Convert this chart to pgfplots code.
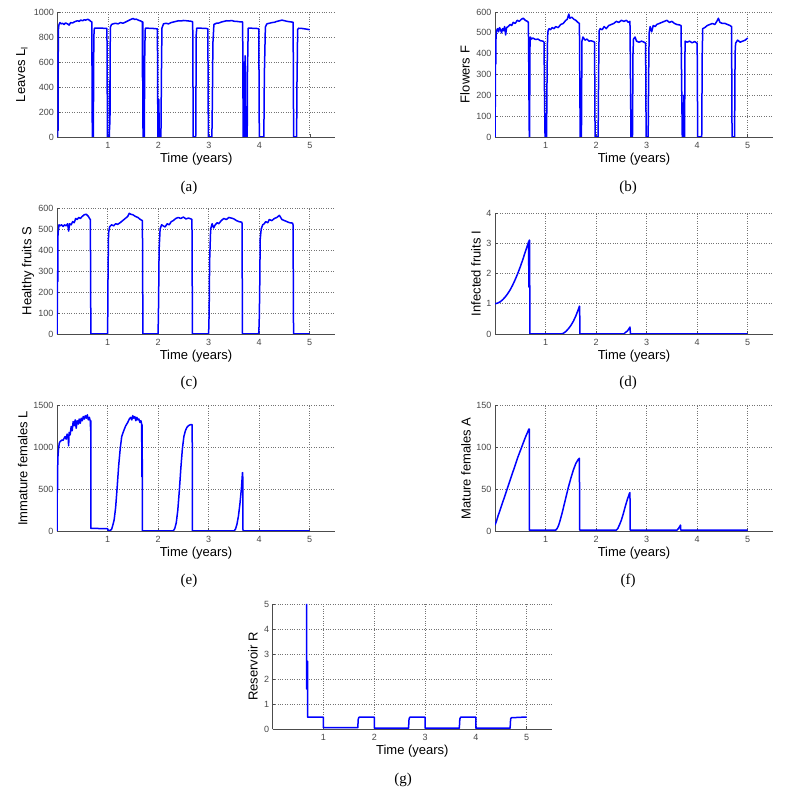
\documentclass[border=0pt]{standalone}
\usepackage{fontspec}
\setmainfont{Liberation Sans}
\newfontfamily\serifcap{Liberation Serif}
\usepackage{pgfplots}
\pgfplotsset{compat=1.18}

\pgfplotsset{panel/.style={
  scale only axis, anchor=south west,
  xmin=0, xmax=5.5, ymin=0,
  xtick={1,2,3,4,5},
  axis x line*=bottom, axis y line*=left,
  axis line style={-, black!70, line width=0.6pt},
  grid=major, grid style={dotted, black!55, line width=0.6pt},
  tick align=inside, major tick length=2.5pt, tick style={black!70, line width=0.5pt},
  ticklabel style={font=\fontsize{9}{10}\selectfont, text=black!72},
  xticklabel style={yshift=-1.5pt},
  /pgf/number format/assume math mode=true,
  /pgf/number format/1000 sep={},
  xlabel={Time (years)},
  label style={font=\fontsize{13}{15}\selectfont},
  xlabel style={at={(axis description cs:0.5,0)}, anchor=center, yshift=-22pt},
  no markers,
  every axis plot/.append style={blue, line width=1.5pt, line join=round},
}}

\begin{document}
\begin{tikzpicture}
\useasboundingbox (0,0) rectangle (798pt,794pt);

% (a) Leaves
\begin{axis}[panel, at={(57.5pt,657pt)}, width=277.5pt, height=125pt,
  ymax=1000, ytick={0,200,...,1000}, ylabel={Leaves L$_{\mathrm{l}}$},
  ylabel style={at={(axis description cs:-0.128,0.5)}, anchor=center}]
\addplot coordinates {(0,0) (0.005,250) (0.01,50) (0.015,700) (0.02,870) (0.03,900) (0.05,915) (0.07,905) (0.1,910) (0.13,900) (0.16,912) (0.2,905) (0.23,895) (0.26,915) (0.3,912) (0.33,920) (0.36,925) (0.4,930) (0.43,925) (0.46,935) (0.5,930) (0.53,938) (0.56,935) (0.6,942) (0.63,935) (0.66,925) (0.68,920) (0.69,0) (0.71,0) (0.72,800) (0.73,870) (0.8,870) (0.9,870) (0.98,868) (0.99,0) (1.03,0) (1.035,450) (1.04,100) (1.045,750) (1.05,880) (1.07,900) (1.1,905) (1.15,910) (1.2,905) (1.25,915) (1.3,910) (1.35,920) (1.4,930) (1.45,940) (1.5,948) (1.53,940) (1.56,943) (1.6,935) (1.65,928) (1.68,920) (1.685,450) (1.69,920) (1.695,0) (1.72,0) (1.73,700) (1.74,870) (1.8,870) (1.9,868) (1.98,865) (1.99,0) (2.0,0) (2.01,300) (2.015,0) (2.05,0) (2.06,500) (2.07,870) (2.1,905) (2.15,910) (2.2,905) (2.25,915) (2.3,920) (2.35,925) (2.4,930) (2.45,928) (2.5,932) (2.55,930) (2.6,928) (2.66,925) (2.68,920) (2.69,0) (2.74,0) (2.745,400) (2.75,820) (2.76,870) (2.85,870) (2.95,868) (2.98,865) (2.99,0) (3.06,0) (3.07,300) (3.08,750) (3.1,900) (3.15,910) (3.2,912) (3.25,920) (3.3,925) (3.35,930) (3.4,928) (3.45,932) (3.5,926) (3.55,925) (3.6,922) (3.67,920) (3.68,0) (3.7,0) (3.705,600) (3.71,50) (3.72,650) (3.73,0) (3.76,0) (3.765,500) (3.78,870) (3.85,870) (3.95,868) (3.99,865) (4.0,0) (4.09,0) (4.1,500) (4.12,880) (4.15,905) (4.2,910) (4.25,915) (4.3,918) (4.35,925) (4.4,930) (4.45,935) (4.5,930) (4.55,925) (4.6,922) (4.67,918) (4.68,0) (4.74,0) (4.745,380) (4.76,860) (4.78,870) (4.85,868) (4.9,865) (4.95,862) (5.0,858)};
\end{axis}

% (b) Flowers
\begin{axis}[panel, at={(495pt,657pt)}, width=278pt, height=125pt,
  ymax=600, ytick={0,100,...,600}, ylabel={Flowers F},
  ylabel style={at={(axis description cs:-0.108,0.5)}, anchor=center}]
\addplot coordinates {(0,0) (0.005,150) (0.01,400) (0.015,350) (0.02,480) (0.03,510) (0.05,520) (0.07,505) (0.09,525) (0.11,515) (0.13,500) (0.15,520) (0.17,510) (0.19,530) (0.21,490) (0.23,525) (0.26,530) (0.3,540) (0.33,535) (0.36,550) (0.4,545) (0.44,560) (0.48,555) (0.52,565) (0.56,570) (0.6,560) (0.64,555) (0.66,550) (0.67,300) (0.675,60) (0.68,0) (0.685,0) (0.69,420) (0.7,480) (0.72,470) (0.75,475) (0.8,468) (0.85,470) (0.9,462) (0.95,460) (0.97,455) (0.98,200) (0.99,0) (1.02,0) (1.025,150) (1.03,300) (1.04,480) (1.05,510) (1.07,520) (1.1,515) (1.13,525) (1.17,520) (1.2,530) (1.25,525) (1.3,540) (1.35,545) (1.4,560) (1.43,565) (1.46,590) (1.48,570) (1.52,575) (1.56,565) (1.6,560) (1.64,550) (1.67,545) (1.68,200) (1.685,0) (1.71,0) (1.72,460) (1.74,480) (1.78,465) (1.82,470) (1.86,460) (1.9,462) (1.95,458) (1.97,455) (1.98,0) (2.04,0) (2.05,300) (2.06,510) (2.08,520) (2.12,515) (2.16,530) (2.2,520) (2.25,535) (2.3,540) (2.35,545) (2.4,555) (2.45,550) (2.5,560) (2.55,555) (2.6,560) (2.64,550) (2.67,555) (2.68,300) (2.69,0) (2.72,0) (2.73,400) (2.74,470) (2.77,480) (2.8,460) (2.85,455) (2.9,460) (2.95,455) (2.98,450) (2.99,0) (3.03,0) (3.04,300) (3.05,500) (3.07,530) (3.1,505) (3.13,535) (3.17,530) (3.2,540) (3.25,545) (3.3,550) (3.35,555) (3.4,560) (3.45,550) (3.5,555) (3.55,545) (3.6,540) (3.65,538) (3.68,535) (3.7,100) (3.705,0) (3.73,0) (3.735,200) (3.74,20) (3.75,0) (3.76,460) (3.8,455) (3.85,460) (3.9,452) (3.95,458) (4.0,450) (4.01,0) (4.09,0) (4.1,400) (4.11,520) (4.15,525) (4.2,535) (4.25,540) (4.3,545) (4.35,540) (4.4,560) (4.42,570) (4.45,550) (4.5,545) (4.55,545) (4.6,540) (4.65,535) (4.68,530) (4.69,0) (4.74,0) (4.75,400) (4.76,450) (4.8,465) (4.85,455) (4.9,460) (4.95,465) (5.0,475)};
\end{axis}

% (c) Healthy fruits
\begin{axis}[panel, at={(57pt,460pt)}, width=278pt, height=126pt,
  ymax=600, ytick={0,100,...,600}, ylabel={Healthy fruits S},
  ylabel style={at={(axis description cs:-0.104,0.5)}, anchor=center}]
\addplot coordinates {(0,0) (0.005,100) (0.01,300) (0.015,250) (0.02,480) (0.03,500) (0.04,520) (0.06,515) (0.09,520) (0.12,512) (0.15,520) (0.18,515) (0.21,525) (0.23,490) (0.25,525) (0.28,520) (0.31,535) (0.34,530) (0.37,550) (0.4,545) (0.43,555) (0.46,550) (0.5,560) (0.54,568) (0.58,570) (0.62,560) (0.65,548) (0.66,545) (0.67,0) (0.9,0) (1.0,0) (1.005,100) (1.01,300) (1.02,480) (1.04,510) (1.08,520) (1.12,515) (1.16,525) (1.2,522) (1.25,530) (1.3,540) (1.35,550) (1.4,560) (1.43,575) (1.46,570) (1.5,568) (1.55,560) (1.6,555) (1.65,545) (1.69,540) (1.70,0) (2.0,0) (2.01,150) (2.02,400) (2.04,500) (2.07,520) (2.1,515) (2.14,510) (2.18,525) (2.22,520) (2.26,535) (2.3,540) (2.35,550) (2.4,555) (2.45,550) (2.5,557) (2.55,548) (2.6,552) (2.65,548) (2.67,545) (2.68,0) (3.0,0) (3.01,100) (3.02,350) (3.04,500) (3.07,525) (3.1,505) (3.13,520) (3.17,530) (3.2,525) (3.25,540) (3.3,550) (3.35,545) (3.4,555) (3.45,552) (3.5,548) (3.55,540) (3.6,535) (3.66,532) (3.67,0) (3.99,0) (4.0,50) (4.01,200) (4.02,450) (4.04,500) (4.07,520) (4.1,525) (4.13,535) (4.17,530) (4.2,545) (4.25,540) (4.3,550) (4.35,555) (4.4,565) (4.45,545) (4.5,540) (4.55,535) (4.6,530) (4.66,528) (4.67,520) (4.68,0) (5.0,0)};
\end{axis}

% (d) Infected fruits (x 10^-3)
\begin{axis}[panel, at={(495pt,460pt)}, width=278pt, height=121pt,
  ymax=4, ytick={0,1,...,4}, ylabel={Infected fruits I},
  ylabel style={at={(axis description cs:-0.068,0.5)}, anchor=center}]
\addplot coordinates {(0,1.0) (0.05,1.02) (0.1,1.06) (0.15,1.13) (0.2,1.22) (0.25,1.33) (0.3,1.46) (0.35,1.62) (0.4,1.8) (0.45,2.0) (0.5,2.22) (0.55,2.46) (0.6,2.72) (0.65,2.97) (0.665,3.05) (0.67,1.55) (0.675,3.1) (0.685,3.1) (0.69,0) (1.0,0) (1.3,0) (1.35,0.02) (1.4,0.08) (1.45,0.17) (1.5,0.28) (1.55,0.42) (1.6,0.6) (1.65,0.82) (1.67,0.92) (1.675,0.9) (1.68,0) (2.55,0) (2.58,0.05) (2.62,0.1) (2.66,0.2) (2.67,0.23) (2.68,0) (5,0)};
\node[anchor=south west, font=\fontsize{7}{8}\selectfont, text=black!75, inner sep=0pt] at (axis description cs:0,1.03) {x 10\textsuperscript{-3}};
\end{axis}

% (e) Immature females
\begin{axis}[panel, at={(57pt,263pt)}, width=278pt, height=125.3pt,
  ymax=1500, ytick={0,500,1000,1500}, ylabel={Immature females L},
  ylabel style={at={(axis description cs:-0.123,0.5)}, anchor=center}]
\addplot coordinates {(0,0) (0.003,200) (0.006,600) (0.01,500) (0.015,800) (0.02,900) (0.03,980) (0.045,1050) (0.06,1070) (0.08,1080) (0.1,1090) (0.12,1085) (0.14,1110) (0.16,1130) (0.18,1100) (0.2,1160) (0.22,1120) (0.23,1020) (0.24,1180) (0.26,1150) (0.28,1250) (0.3,1200) (0.32,1310) (0.34,1260) (0.36,1330) (0.38,1230) (0.4,1320) (0.42,1280) (0.44,1340) (0.46,1290) (0.48,1350) (0.5,1320) (0.52,1370) (0.54,1340) (0.56,1380) (0.58,1350) (0.6,1390) (0.62,1330) (0.64,1360) (0.66,1310) (0.665,1200) (0.67,1320) (0.672,30) (0.8,30) (1.0,28) (1.01,10) (1.05,5) (1.08,20) (1.1,60) (1.13,130) (1.16,280) (1.19,520) (1.22,780) (1.25,980) (1.28,1130) (1.32,1200) (1.36,1260) (1.4,1300) (1.43,1340) (1.46,1360) (1.48,1330) (1.5,1380) (1.52,1350) (1.54,1370) (1.56,1320) (1.58,1360) (1.6,1330) (1.62,1340) (1.64,1300) (1.66,1320) (1.675,1280) (1.68,650) (1.685,1270) (1.69,0) (2.3,0) (2.33,30) (2.36,100) (2.39,250) (2.42,480) (2.45,750) (2.48,980) (2.51,1130) (2.54,1200) (2.57,1240) (2.6,1260) (2.63,1270) (2.66,1275) (2.675,1270) (2.68,0) (3.5,0) (3.53,20) (3.56,80) (3.59,180) (3.62,330) (3.65,520) (3.67,700) (3.675,650) (3.68,0) (5,0)};
\end{axis}

% (f) Mature females
\begin{axis}[panel, at={(495pt,263pt)}, width=278pt, height=125.3pt,
  ymax=150, ytick={0,50,100,150}, ylabel={Mature females A},
  ylabel style={at={(axis description cs:-0.104,0.5)}, anchor=center}]
\addplot coordinates {(0,7) (0.03,12) (0.06,18) (0.1,25) (0.15,34) (0.2,43) (0.25,52) (0.3,61) (0.35,70) (0.4,79) (0.45,88) (0.5,96) (0.55,104) (0.6,112) (0.65,119) (0.67,122) (0.68,122) (0.68,1) (1.0,1) (1.2,1) (1.23,3) (1.26,7) (1.29,13) (1.33,22) (1.37,32) (1.41,42) (1.45,52) (1.5,63) (1.55,73) (1.6,81) (1.65,86) (1.67,87) (1.675,1) (2.4,1) (2.43,3) (2.46,7) (2.5,13) (2.54,21) (2.58,30) (2.62,38) (2.66,45) (2.67,46) (2.675,1) (3.6,1) (3.63,3) (3.66,6) (3.67,7) (3.675,1) (5,1)};
\end{axis}

% (g) Reservoir
\begin{axis}[panel, at={(272.7pt,65pt)}, width=279.3pt, height=125pt,
  ymax=5, ytick={0,1,...,5}, ylabel={Reservoir R},
  ylabel style={at={(axis description cs:-0.071,0.5)}, anchor=center}]
\addplot coordinates {(0.67,5) (0.67,1.6) (0.69,2.7) (0.69,0.47) (1.0,0.47) (1.0,0.05) (1.675,0.05) (1.685,0.4) (1.7,0.47) (2.0,0.47) (2.0,0.03) (2.675,0.03) (2.685,0.4) (2.7,0.47) (3.0,0.47) (3.0,0.03) (3.675,0.03) (3.685,0.4) (3.7,0.47) (4.0,0.47) (4.0,0.03) (4.675,0.03) (4.685,0.4) (4.7,0.45) (5.0,0.48)};
\end{axis}

% captions
\begin{scope}[every node/.style={font=\serifcap\fontsize{15}{17}\selectfont}]
\node at (189pt,606pt) {(a)};
\node at (628pt,606pt) {(b)};
\node at (189pt,411pt) {(c)};
\node at (628pt,411pt) {(d)};
\node at (189pt,213pt) {(e)};
\node at (628pt,213pt) {(f)};
\node at (403pt,14pt) {(g)};
\end{scope}
\end{tikzpicture}
\end{document}
